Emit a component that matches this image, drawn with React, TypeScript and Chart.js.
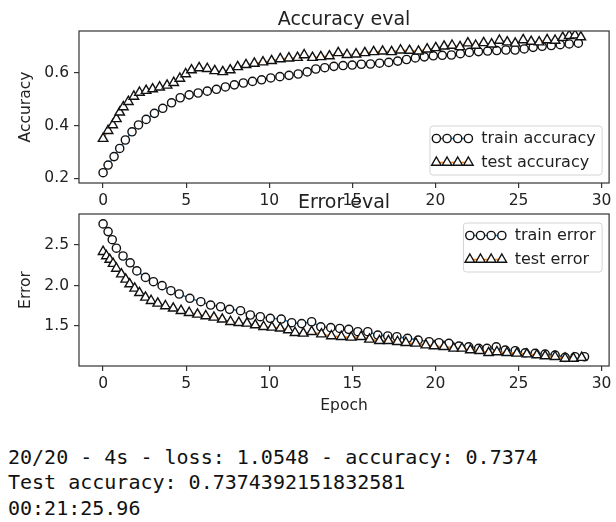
import React, { useEffect, useRef } from 'react';
import { Chart, registerables } from 'chart.js';

Chart.register(...registerables);

const FONT = '"DejaVu Sans", sans-serif';
const TEXT = '#222222';
const EDGE = '#333333';

const EPOCH_TICKS = [0, 5, 10, 15, 20, 25, 30];
const ACC_TICKS = [0.2, 0.4, 0.6];
const ERR_TICKS = [1.5, 2.0, 2.5];

const TRAIN_ACC_EPOCH = [0, 0.3, 0.66, 1.0, 1.34, 1.74, 2.13, 2.59, 3.09, 3.59, 4.12, 4.64, 5.18, 5.72, 6.27, 6.82, 7.36, 7.9, 8.44, 8.99, 9.54, 10.09, 10.64, 11.19, 11.74, 12.28, 12.8, 13.34, 13.89, 14.44, 14.99, 15.54, 16.09, 16.64, 17.19, 17.73, 18.26, 18.79, 19.33, 19.87, 20.41, 20.96, 21.5, 22.04, 22.59, 23.14, 23.69, 24.24, 24.79, 25.34, 25.88, 26.42, 26.97, 27.51, 28.05, 28.6];
const TRAIN_ACC = [0.221, 0.25, 0.282, 0.313, 0.345, 0.376, 0.402, 0.423, 0.446, 0.465, 0.486, 0.505, 0.516, 0.523, 0.53, 0.537, 0.546, 0.554, 0.561, 0.567, 0.573, 0.58, 0.585, 0.59, 0.595, 0.603, 0.614, 0.619, 0.624, 0.627, 0.629, 0.632, 0.633, 0.636, 0.639, 0.644, 0.65, 0.656, 0.66, 0.664, 0.666, 0.667, 0.672, 0.677, 0.68, 0.682, 0.684, 0.686, 0.686, 0.69, 0.696, 0.7, 0.703, 0.706, 0.709, 0.712];

const TEST_ACC_EPOCH = [0, 0.3, 0.58, 0.8, 1.0, 1.22, 1.52, 1.85, 2.19, 2.59, 2.98, 3.4, 3.85, 4.25, 4.62, 4.97, 5.32, 5.78, 6.27, 6.72, 7.2, 7.65, 8.1, 8.6, 9.1, 9.62, 10.14, 10.66, 11.18, 11.7, 12.1, 12.6, 13.1, 13.62, 14.15, 14.68, 15.22, 15.75, 16.28, 16.82, 17.36, 17.9, 18.44, 18.98, 19.5, 20.02, 20.52, 21.0, 21.48, 21.95, 22.42, 22.9, 23.38, 23.85, 24.32, 24.8, 25.28, 25.76, 26.24, 26.72, 27.2, 27.66, 28.05, 28.4, 28.75];
const TEST_ACC = [0.35, 0.38, 0.402, 0.425, 0.45, 0.47, 0.49, 0.51, 0.525, 0.532, 0.538, 0.545, 0.552, 0.562, 0.578, 0.595, 0.61, 0.618, 0.615, 0.607, 0.603, 0.61, 0.622, 0.63, 0.635, 0.64, 0.645, 0.652, 0.655, 0.657, 0.667, 0.657, 0.66, 0.663, 0.675, 0.668, 0.67, 0.675, 0.679, 0.681, 0.679, 0.685, 0.684, 0.681, 0.689, 0.694, 0.7, 0.703, 0.698, 0.712, 0.703, 0.713, 0.708, 0.722, 0.716, 0.711, 0.724, 0.718, 0.716, 0.724, 0.722, 0.733, 0.74, 0.742, 0.735];

const TRAIN_ERR_EPOCH = [0, 0.3, 0.55, 0.8, 1.2, 1.63, 2.03, 2.55, 3.03, 3.55, 4.08, 4.58, 5.22, 5.88, 6.47, 7.07, 7.61, 8.27, 8.86, 9.46, 10.06, 10.72, 11.35, 11.95, 12.55, 13.1, 13.7, 14.24, 14.78, 15.33, 15.93, 16.53, 17.13, 17.68, 18.32, 18.96, 19.62, 20.21, 20.81, 21.41, 22.0, 22.6, 23.1, 23.66, 24.2, 24.8, 25.4, 26.0, 26.6, 27.2, 27.8, 28.4, 28.97];
const TRAIN_ERR = [2.76, 2.665, 2.565, 2.46, 2.364, 2.28, 2.18, 2.1, 2.047, 1.998, 1.936, 1.895, 1.842, 1.8, 1.759, 1.738, 1.706, 1.689, 1.636, 1.615, 1.595, 1.586, 1.541, 1.53, 1.553, 1.49, 1.48, 1.47, 1.459, 1.43, 1.43, 1.389, 1.377, 1.368, 1.348, 1.327, 1.306, 1.294, 1.286, 1.253, 1.244, 1.224, 1.224, 1.244, 1.204, 1.195, 1.17, 1.163, 1.154, 1.142, 1.114, 1.121, 1.121];

const TEST_ERR_EPOCH = [0, 0.2, 0.4, 0.6, 0.8, 1.1, 1.36, 1.6, 1.9, 2.19, 2.55, 2.89, 3.29, 3.75, 4.22, 4.69, 5.18, 5.68, 6.18, 6.67, 7.17, 7.67, 8.17, 8.66, 9.16, 9.66, 10.16, 10.66, 11.15, 11.55, 12.05, 12.55, 13.14, 13.74, 14.34, 14.93, 15.53, 16.03, 16.63, 17.17, 17.72, 18.22, 18.82, 19.42, 19.92, 20.51, 21.1, 21.6, 22.1, 22.66, 23.2, 23.7, 24.3, 24.9, 25.5, 26.1, 26.6, 27.2, 27.8, 28.3, 28.8];
const TEST_ERR = [2.417, 2.364, 2.32, 2.27, 2.21, 2.14, 2.075, 2.018, 1.965, 1.91, 1.854, 1.812, 1.78, 1.747, 1.719, 1.689, 1.664, 1.644, 1.624, 1.607, 1.583, 1.553, 1.541, 1.533, 1.512, 1.491, 1.484, 1.472, 1.451, 1.417, 1.409, 1.43, 1.4, 1.377, 1.368, 1.36, 1.368, 1.336, 1.318, 1.318, 1.306, 1.294, 1.286, 1.265, 1.253, 1.244, 1.224, 1.224, 1.204, 1.195, 1.17, 1.18, 1.17, 1.163, 1.154, 1.142, 1.13, 1.121, 1.1, 1.1, 1.11];

const LOG_LINES = [
  '20/20 - 4s - loss: 1.0548 - accuracy: 0.7374',
  'Test accuracy: 0.7374392151832581',
  '00:21:25.96',
];

function points(xs: number[], ys: number[]) {
  return xs.map((x, i) => ({ x, y: ys[i] }));
}

function drawMarker(ctx: CanvasRenderingContext2D, style: string, x: number, y: number, r: number) {
  ctx.beginPath();
  if (style === 'triangle') {
    const a = (2 * Math.PI) / 3;
    ctx.moveTo(x, y - r);
    ctx.lineTo(x + Math.sin(a) * r, y - Math.cos(a) * r);
    ctx.lineTo(x + Math.sin(2 * a) * r, y - Math.cos(2 * a) * r);
    ctx.closePath();
  } else {
    ctx.arc(x, y, r, 0, Math.PI * 2);
  }
  ctx.fill();
  ctx.stroke();
}

const framePlugin = {
  id: 'mplFrame',
  afterDatasetsDraw(chart: any) {
    const { ctx, chartArea: a } = chart;
    ctx.save();
    ctx.strokeStyle = EDGE;
    ctx.lineWidth = 1.2;
    ctx.strokeRect(a.left, a.top, a.right - a.left, a.bottom - a.top);
    ctx.restore();
  },
};

const decorPlugin = {
  id: 'mplDecor',
  afterDraw(chart: any, _args: any, opts: any) {
    const { ctx, chartArea: a } = chart;
    ctx.save();
    // title
    ctx.font = `19px ${FONT}`;
    ctx.fillStyle = TEXT;
    ctx.textAlign = 'center';
    ctx.textBaseline = 'alphabetic';
    ctx.fillText(opts.title, (a.left + a.right) / 2, a.top - 6);

    // legend
    const fs = 16;
    ctx.font = `${fs}px ${FONT}`;
    const sets = chart.data.datasets;
    const labels: string[] = sets.map((d: any) => d.label);
    const textW = Math.max(...labels.map((l) => ctx.measureText(l).width));
    const pad = 0.4 * fs;
    const handleLen = 2 * fs;
    const textPad = 0.8 * fs;
    const w = pad + handleLen + textPad + textW + pad;
    const h = 49;
    const right = a.right - 7;
    const left = right - w;
    const top = opts.corner === 'lower right' ? a.bottom - 8 - h : a.top + 9;
    const rr = 3;
    ctx.beginPath();
    ctx.moveTo(left + rr, top);
    ctx.lineTo(left + w - rr, top);
    ctx.arcTo(left + w, top, left + w, top + rr, rr);
    ctx.lineTo(left + w, top + h - rr);
    ctx.arcTo(left + w, top + h, left + w - rr, top + h, rr);
    ctx.lineTo(left + rr, top + h);
    ctx.arcTo(left, top + h, left, top + h - rr, rr);
    ctx.lineTo(left, top + rr);
    ctx.arcTo(left, top, left + rr, top, rr);
    ctx.closePath();
    ctx.fillStyle = 'rgba(255,255,255,0.85)';
    ctx.fill();
    ctx.strokeStyle = '#d4d4d4';
    ctx.lineWidth = 1;
    ctx.stroke();

    sets.forEach((d: any, i: number) => {
      const y = top + 12.5 + i * 24;
      const x0 = left + pad;
      const x1 = x0 + handleLen;
      ctx.strokeStyle = d.borderColor;
      ctx.lineWidth = d.borderWidth;
      ctx.beginPath();
      ctx.moveTo(x0, y);
      ctx.lineTo(x1, y);
      ctx.stroke();
      ctx.fillStyle = d.pointBackgroundColor;
      ctx.strokeStyle = d.pointBorderColor;
      ctx.lineWidth = d.pointBorderWidth;
      for (let k = 0; k < 4; k++) {
        drawMarker(ctx, d.pointStyle, x0 + (k * handleLen) / 3, y, d.pointRadius);
      }
      ctx.fillStyle = TEXT;
      ctx.textAlign = 'left';
      ctx.textBaseline = 'middle';
      ctx.fillText(d.label, x1 + textPad, y);
    });
    ctx.restore();
  },
};

function buildConfig(p: any): any {
  return {
    type: 'line',
    data: {
      datasets: [
        {
          label: p.trainLabel,
          data: points(p.trainX, p.trainY),
          borderColor: '#1f77b4',
          borderWidth: 1.5,
          pointStyle: 'circle',
          pointRadius: 4.1,
          pointBorderWidth: 1.4,
          pointBackgroundColor: '#ffffff',
          pointBorderColor: '#111111',
          fill: false,
          tension: 0,
          order: 1,
        },
        {
          label: p.testLabel,
          data: points(p.testX, p.testY),
          borderColor: '#ff7f0e',
          borderWidth: 1.5,
          pointStyle: 'triangle',
          pointRadius: 5.5,
          pointBorderWidth: 1.4,
          pointBackgroundColor: '#ffffff',
          pointBorderColor: '#111111',
          fill: false,
          tension: 0,
          order: 0,
        },
      ],
    },
    options: {
      responsive: false,
      animation: false,
      events: [],
      layout: { padding: { left: 0, right: 3, top: p.top, bottom: 0 } },
      plugins: {
        legend: { display: false },
        tooltip: { enabled: false },
        title: { display: false },
        mplDecor: { title: p.title, corner: p.corner },
      },
      scales: {
        x: {
          type: 'linear',
          min: -1.45,
          max: 30.45,
          afterBuildTicks: (s: any) => {
            s.ticks = EPOCH_TICKS.map((v) => ({ value: v }));
          },
          afterFit: (s: any) => {
            s.height = p.xAxisH;
            s.paddingLeft = 0;
            s.paddingRight = 0;
          },
          ticks: {
            padding: 4,
            autoSkip: false,
            maxRotation: 0,
            color: TEXT,
            font: { family: FONT, size: 15.5 },
            callback: (v: any) => String(v),
          },
          grid: { drawOnChartArea: false, drawTicks: true, tickLength: 5, color: EDGE, lineWidth: 1.2 },
          border: { display: false },
          title: {
            display: !!p.xTitle,
            text: p.xTitle || '',
            color: TEXT,
            font: { family: FONT, size: 15.5 },
            padding: { top: 0, bottom: 3.2 },
          },
        },
        y: {
          type: 'linear',
          min: p.yMin,
          max: p.yMax,
          afterBuildTicks: (s: any) => {
            s.ticks = p.yTicks.map((v: number) => ({ value: v }));
          },
          afterFit: (s: any) => {
            s.width = 79;
            s.paddingTop = 0;
            s.paddingBottom = 0;
          },
          ticks: {
            padding: 5,
            color: TEXT,
            font: { family: FONT, size: 15.5 },
            callback: (v: any) => Number(v).toFixed(1),
          },
          grid: { drawOnChartArea: false, drawTicks: true, tickLength: 5, color: EDGE, lineWidth: 1.2 },
          border: { display: false },
          title: {
            display: true,
            text: p.yTitle,
            color: TEXT,
            font: { family: FONT, size: 15.5 },
            padding: { top: 17, bottom: 0 },
          },
        },
      },
    },
    plugins: [framePlugin, decorPlugin],
  };
}

export default function App() {
  const topRef = useRef<HTMLCanvasElement>(null);
  const botRef = useRef<HTMLCanvasElement>(null);

  useEffect(() => {
    const c1 = new Chart(
      topRef.current as HTMLCanvasElement,
      buildConfig({
        trainX: TRAIN_ACC_EPOCH,
        trainY: TRAIN_ACC,
        testX: TEST_ACC_EPOCH,
        testY: TEST_ACC,
        trainLabel: 'train accuracy',
        testLabel: 'test accuracy',
        title: 'Accuracy eval',
        yTitle: 'Accuracy',
        yMin: 0.182,
        yMax: 0.758,
        yTicks: ACC_TICKS,
        top: 31,
        xAxisH: 32,
        corner: 'lower right',
      })
    );
    const c2 = new Chart(
      botRef.current as HTMLCanvasElement,
      buildConfig({
        trainX: TRAIN_ERR_EPOCH,
        trainY: TRAIN_ERR,
        testX: TEST_ERR_EPOCH,
        testY: TEST_ERR,
        trainLabel: 'train error',
        testLabel: 'test error',
        title: 'Error eval',
        yTitle: 'Error',
        xTitle: 'Epoch',
        yMin: 1.007,
        yMax: 2.882,
        yTicks: ERR_TICKS,
        top: 26,
        xAxisH: 52,
        corner: 'upper right',
      })
    );
    return () => {
      c1.destroy();
      c2.destroy();
    };
  }, []);

  return (
    <div style={{ position: 'absolute', left: 0, top: 0, width: 616, height: 522, background: '#ffffff', overflow: 'hidden' }}>
      <canvas ref={topRef} width={616} height={215} style={{ position: 'absolute', left: 0, top: 0 }} />
      <canvas ref={botRef} width={616} height={230} style={{ position: 'absolute', left: 0, top: 188 }} />
      <div
        style={{
          position: 'absolute',
          left: 8,
          top: 445,
          fontFamily: '"DejaVu Sans Mono", monospace',
          fontSize: 20,
          lineHeight: '25.3px',
          whiteSpace: 'pre',
          color: '#111111',
        }}
      >
        {LOG_LINES.map((l) => (
          <div key={l}>{l}</div>
        ))}
      </div>
    </div>
  );
}
